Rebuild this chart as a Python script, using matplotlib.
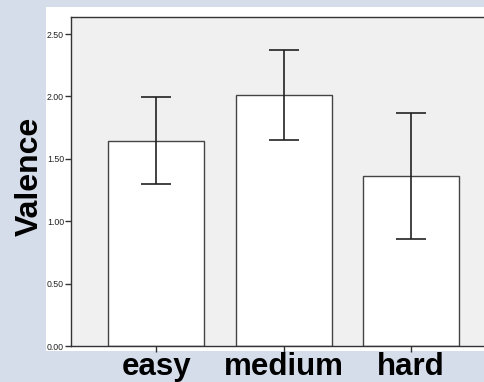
import numpy as np
import matplotlib.pyplot as plt
from matplotlib.patches import Rectangle
from matplotlib.ticker import FormatStrFormatter

categories = ["easy", "medium", "hard"]
means = [1.645, 2.01, 1.365]
errors = [0.35, 0.36, 0.505]
y_ticks = [0.0, 0.5, 1.0, 1.5, 2.0, 2.5]

W, H = 484, 382
fig = plt.figure(figsize=(W / 100, H / 100), dpi=100)
fig.patch.set_facecolor("#d5dcea")

# white panel behind the plot
fig.patches.append(Rectangle((46 / W, 1 - 351 / H), 1 - 46 / W, (351 - 6.7) / H,
                             transform=fig.transFigure, facecolor="white",
                             edgecolor="none", zorder=-1))

ax = fig.add_axes([71 / W, 1 - 346 / H, 1 - 71 / W, (346 - 17.3) / H])
ax.set_zorder(2)
ax.set_facecolor("#f0f0f0")

x = np.arange(len(categories))
ax.bar(x, means, width=0.755, color="white", edgecolor="#444444", linewidth=1.0, zorder=2)
ax.errorbar(x, means, yerr=errors, fmt="none", ecolor="#222222", elinewidth=1.2,
            capsize=11, capthick=1.2, zorder=3)

ax.set_xlim(-0.67, 2.573)
ax.set_ylim(0, 2.634)
ax.set_yticks(y_ticks)
ax.yaxis.set_major_formatter(FormatStrFormatter("%.2f"))
ax.set_xticks(x)
ax.set_xticklabels(categories, fontsize=22.5, fontweight="bold", family="Liberation Sans")
for lab in ax.get_yticklabels():
    lab.set_family("Liberation Sans")
ax.tick_params(axis="y", labelsize=6.3, length=4, width=1, color="#333333",
               labelcolor="#222222", pad=1)
ax.tick_params(axis="x", length=4, width=1, color="#333333", pad=0)

for s in ["top", "left", "bottom"]:
    ax.spines[s].set_color("#333333")
    ax.spines[s].set_linewidth(1)
ax.spines["right"].set_visible(False)

fig.text(30 / W, 1 - 176 / H, "Valence", rotation=90, fontsize=23, fontweight="bold",
         family="Liberation Sans", ha="center", va="center")

fig.savefig("out.png", dpi=100, facecolor=fig.get_facecolor())
